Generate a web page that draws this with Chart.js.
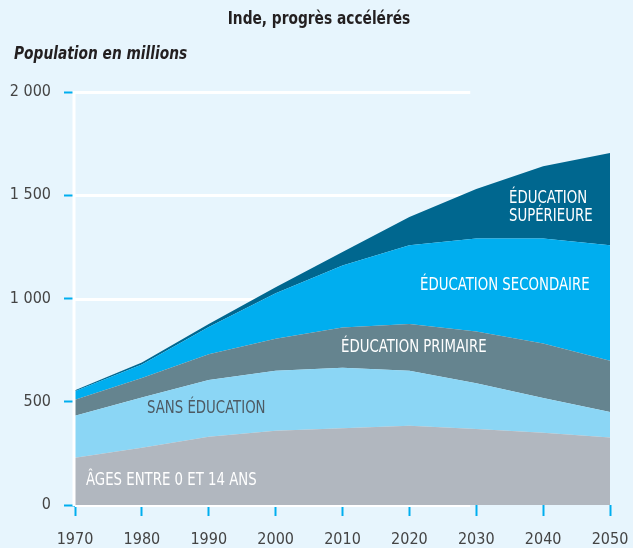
<!DOCTYPE html>
<html>
<head>
<meta charset="utf-8">
<script src="https://cdn.jsdelivr.net/npm/chart.js@4"></script>
<style>
  html, body { margin: 0; padding: 0; background: #e7f5fd; }
  #wrap { width: 633px; height: 548px; }
</style>
</head>
<body>
<div id="wrap"><canvas id="chart" width="633" height="548"></canvas></div>
<script>
// données (millions)
const years = ['1970', '1980', '1990', '2000', '2010', '2020', '2030', '2040', '2050'];
const ages0to14  = [229, 277, 330, 360, 372, 384, 368, 350, 327];
const sansEduc   = [203, 243, 275, 290, 293, 266, 222, 168, 123];
const primaire   = [78, 95, 125, 155, 195, 226, 250, 264, 248];
const secondaire = [41, 65, 132, 220, 300, 382, 450, 508, 560];
const superieure = [5, 10, 15, 30, 65, 137, 240, 350, 447];
const yTicks = [0, 500, 1000, 1500, 2000];

const FONT = '"DejaVu Sans Condensed", "Liberation Sans Narrow", "Liberation Sans", sans-serif';

function fmt(v) {
  if (v >= 1000) return Math.floor(v / 1000) + ' ' + String(v % 1000).padStart(3, '0');
  return String(v);
}

// texte un peu serré horizontalement (police condensée de l'original)
function squeeze(ctx, txt, x, y, sx) {
  ctx.save();
  ctx.translate(x, y);
  ctx.scale(sx, 1);
  ctx.fillText(txt, 0, 0);
  ctx.restore();
}

// lignes blanches de la grille, qui s'arretent avant 2030
const gridPlugin = {
  id: 'grid',
  beforeDatasetsDraw(chart) {
    const ctx = chart.ctx, x = chart.scales.x, y = chart.scales.y;
    const endX = x.getPixelForValue(6) - 6;
    ctx.save();
    ctx.strokeStyle = '#ffffff';
    ctx.lineWidth = 3;
    yTicks.forEach(t => {
      const py = Math.round(y.getPixelForValue(t)) + 0.5;
      ctx.beginPath();
      ctx.moveTo(chart.chartArea.left, py);
      ctx.lineTo(endX, py);
      ctx.stroke();
    });
    ctx.restore();
  },
  afterDatasetsDraw(chart) {
    const ctx = chart.ctx, a = chart.chartArea;
    ctx.save();
    ctx.strokeStyle = '#ffffff';
    ctx.lineWidth = 3;
    ctx.beginPath();
    ctx.moveTo(a.left - 1, a.top - 1);
    ctx.lineTo(a.left - 1, a.bottom + 1);
    ctx.stroke();
    ctx.restore();
  }
};

// titres et etiquettes des aires
const textPlugin = {
  id: 'texts',
  afterDraw(chart) {
    const ctx = chart.ctx;
    ctx.save();
    ctx.textBaseline = 'middle';
    ctx.fillStyle = '#231f20';
    ctx.textAlign = 'center';
    ctx.font = 'bold 17px ' + FONT;
    squeeze(ctx, 'Inde, progrès accélérés', 319, 20, 0.9);
    ctx.textAlign = 'left';
    ctx.font = 'italic bold 17px ' + FONT;
    squeeze(ctx, 'Population en millions', 14, 55, 0.9);

    ctx.font = '17px ' + FONT;
    ctx.fillStyle = '#ffffff';
    squeeze(ctx, 'ÉDUCATION', 509, 199, 0.87);
    squeeze(ctx, 'SUPÉRIEURE', 509, 217, 0.87);
    squeeze(ctx, 'ÉDUCATION SECONDAIRE', 420, 286, 0.87);
    squeeze(ctx, 'ÉDUCATION PRIMAIRE', 341, 348, 0.87);
    squeeze(ctx, 'ÂGES ENTRE 0 ET 14 ANS', 86, 481, 0.87);
    ctx.fillStyle = '#4d5a63';
    squeeze(ctx, 'SANS ÉDUCATION', 147, 409, 0.87);
    ctx.restore();
  }
};

function area(label, data, color, fill) {
  return {
    label: label,
    data: data,
    backgroundColor: color,
    borderWidth: 0,
    pointRadius: 0,
    tension: 0,
    fill: fill
  };
}

new Chart(document.getElementById('chart'), {
  type: 'line',
  data: {
    labels: years,
    datasets: [
      area('Âges entre 0 et 14 ans', ages0to14, '#b1b7bf', 'origin'),
      area('Sans éducation', sansEduc, '#8bd6f5', '-1'),
      area('Éducation primaire', primaire, '#65848f', '-1'),
      area('Éducation secondaire', secondaire, '#00aeef', '-1'),
      area('Éducation supérieure', superieure, '#00678f', '-1')
    ]
  },
  options: {
    responsive: false,
    animation: false,
    layout: { padding: { left: 0, right: 23, top: 92, bottom: 0 } },
    plugins: {
      legend: { display: false },
      tooltip: { enabled: false },
      title: { display: false }
    },
    scales: {
      x: {
        offset: false,
        border: { display: false },
        grid: { drawOnChartArea: false, drawTicks: true, tickLength: 11, tickColor: '#00aeef', tickWidth: 2 },
        ticks: { color: '#444444', font: { family: FONT, size: 16 }, padding: 14, maxRotation: 0 },
        afterFit(s) { s.height = 43; s.paddingLeft = 0; s.paddingRight = 0; }
      },
      y: {
        stacked: true,
        min: 0,
        max: 2000,
        border: { display: false },
        grid: { drawOnChartArea: false, drawTicks: true, tickLength: 11, tickColor: '#00aeef', tickWidth: 2 },
        ticks: {
          stepSize: 500,
          color: '#444444',
          font: { family: FONT, size: 16 },
          padding: 13,
          callback: v => fmt(v)
        },
        afterFit(s) { s.width = 75; s.paddingTop = 0; s.paddingBottom = 0; }
      }
    }
  },
  plugins: [gridPlugin, textPlugin]
});
</script>
</body>
</html>
